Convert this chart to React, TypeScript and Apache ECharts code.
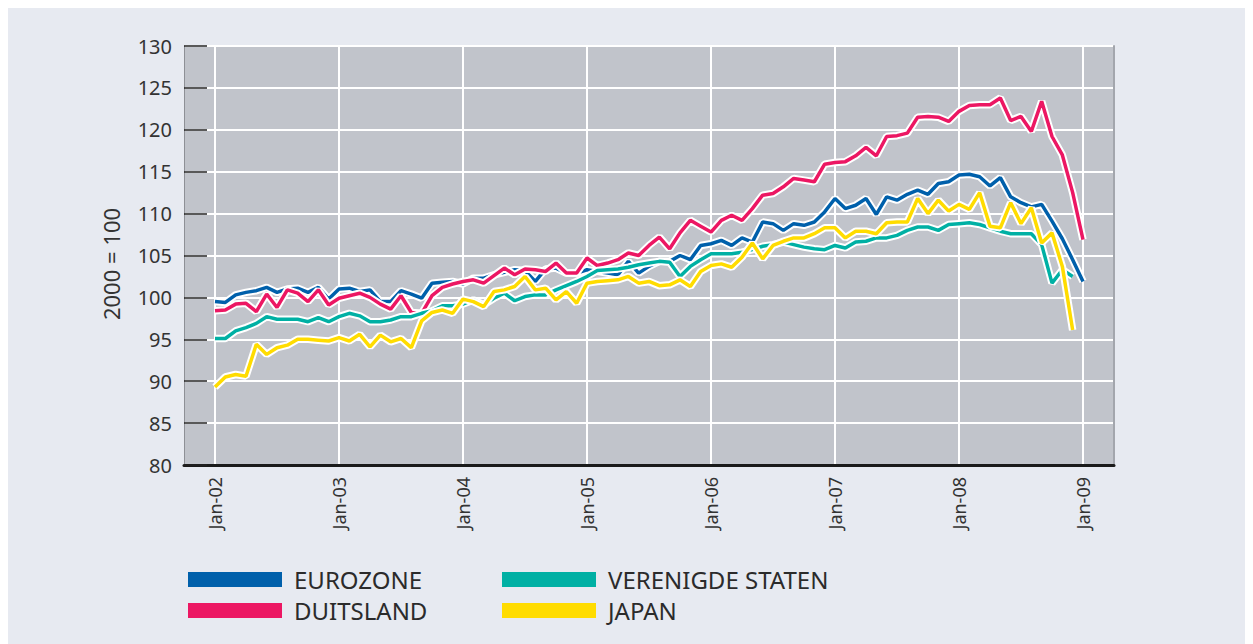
import React, { useEffect, useRef } from "react";
import * as echarts from "echarts";

// Month labels used to build the category axis (Oct-01 .. Apr-09)
const MONTH_NAMES = ["Jan", "Feb", "Mar", "Apr", "May", "Jun", "Jul", "Aug", "Sep", "Oct", "Nov", "Dec"];
const YEAR_TICKS = ["Jan-02", "Jan-03", "Jan-04", "Jan-05", "Jan-06", "Jan-07", "Jan-08", "Jan-09"];

// Monthly index values, Jan-02 .. Jan-09 (2000 = 100)
const eurozone = [
  99.5, 99.4, 100.3, 100.6, 100.8, 101.2, 100.6, 101.0, 101.1, 100.6, 101.2, 99.8,
  101.0, 101.1, 100.7, 100.9, 99.5, 99.5, 100.8, 100.4, 99.9, 101.7, 101.8, 101.9,
  101.6, 102.3, 102.3, 102.7, 103.0, 103.3, 103.2, 101.9, 103.4, 103.5, 102.9, 102.9,
  103.3, 103.1, 102.9, 102.7, 104.3, 102.9, 103.7, 104.3, 104.3, 105.0, 104.5, 106.2,
  106.4, 106.8, 106.2, 107.1, 106.6, 109.0, 108.8, 108.0, 108.8, 108.6, 109.0, 110.2,
  111.8, 110.6, 111.0, 111.8, 109.9, 112.0, 111.6, 112.3, 112.8, 112.3, 113.6, 113.8,
  114.6, 114.7, 114.4, 113.3, 114.3, 112.0, 111.3, 110.8, 111.1, 109.1, 107.0, 104.5,
  101.9,
];
const duitsland = [
  98.4, 98.5, 99.2, 99.3, 98.3, 100.4, 98.8, 100.9, 100.5, 99.5, 100.9, 99.1,
  99.9, 100.2, 100.5, 100.0, 99.2, 98.6, 100.2, 98.2, 98.1, 100.2, 101.2, 101.6,
  101.9, 102.1, 101.7, 102.6, 103.5, 102.7, 103.4, 103.3, 103.1, 104.1, 102.9, 102.9,
  104.7, 103.8, 104.1, 104.5, 105.3, 105.0, 106.2, 107.2, 105.8, 107.7, 109.2, 108.5,
  107.8, 109.2, 109.8, 109.2, 110.6, 112.2, 112.4, 113.2, 114.2, 114.0, 113.8, 115.9,
  116.1, 116.2, 116.9, 117.9, 116.9, 119.2, 119.3, 119.6, 121.5, 121.6, 121.5, 121.0,
  122.2, 122.9, 123.0, 123.0, 123.8, 121.1, 121.6, 119.8, 123.4, 119.2, 117.0, 112.5,
  106.9,
];
const verenigdeStaten = [
  95.1, 95.1, 96.0, 96.4, 96.9, 97.7, 97.4, 97.4, 97.4, 97.1, 97.6, 97.1,
  97.7, 98.1, 97.8, 97.1, 97.1, 97.3, 97.7, 97.7, 98.1, 98.4, 99.0, 99.0,
  99.2, 99.7, 99.1, 99.9, 100.5, 99.6, 100.1, 100.3, 100.3, 100.9, 101.4, 101.9,
  102.5, 103.2, 103.3, 103.4, 103.6, 103.9, 104.1, 104.3, 104.2, 102.5, 103.7, 104.5,
  105.2, 105.2, 105.2, 105.4, 105.7, 106.1, 106.3, 106.6, 106.3, 106.0, 105.8, 105.7,
  106.2, 105.9, 106.6, 106.7, 107.1, 107.1, 107.4, 108.0, 108.4, 108.4, 108.0, 108.7,
  108.8, 108.9, 108.7, 108.3, 107.9, 107.6, 107.6, 107.6, 106.3, 101.7, 103.3, 102.5,
];
const japan = [
  89.3, 90.5, 90.8, 90.6, 94.4, 93.2, 94.0, 94.3, 95.0, 95.0, 94.9, 94.8,
  95.2, 94.8, 95.6, 94.1, 95.5, 94.7, 95.1, 94.0, 97.2, 98.2, 98.5, 98.1,
  99.8, 99.5, 98.9, 100.7, 100.9, 101.3, 102.5, 100.9, 101.1, 99.7, 100.7, 99.3,
  101.7, 101.9, 102.0, 102.1, 102.5, 101.7, 101.9, 101.4, 101.5, 102.1, 101.3, 103.1,
  103.8, 104.0, 103.6, 104.8, 106.5, 104.6, 106.2, 106.7, 107.1, 107.1, 107.6, 108.3,
  108.3, 107.1, 107.9, 107.9, 107.6, 108.9, 109.0, 109.0, 111.8, 110.0, 111.6, 110.3,
  111.1, 110.5, 112.5, 108.5, 108.3, 111.3, 108.8, 110.7, 106.5, 107.7, 103.7, 96.1,
];

const SERIES_NAMES = ["EUROZONE", "DUITSLAND", "VERENIGDE STATEN", "JAPAN"];
const SERIES_COLORS = ["#0060ab", "#ec1763", "#00b0a4", "#ffdc00"];
const Y_TICKS_MIN = 80;
const Y_TICKS_MAX = 130;
const Y_TICKS_STEP = 5;
const Y_TITLE = "2000 = 100";

// categories: Oct-01 .. Apr-09 (3 empty months either side of the data)
const categories: string[] = [];
for (let i = 0; i < 91; i++) {
  const t = 2001 * 12 + 9 + i;
  const y = Math.floor(t / 12);
  const m = t % 12;
  categories.push(`${MONTH_NAMES[m]}-${String(y % 100).padStart(2, "0")}`);
}
const LEAD = 3;
const pad = (arr: number[]) => {
  const out: (number | null)[] = [];
  for (let i = 0; i < LEAD; i++) out.push(null);
  arr.forEach((v) => out.push(v));
  while (out.length < categories.length) out.push(null);
  return out;
};

const FONT = "'Noto Sans', 'DejaVu Sans', sans-serif";

export default function App() {
  const ref = useRef<HTMLDivElement>(null);
  useEffect(() => {
    document.documentElement.style.overflow = "hidden";
    if (!ref.current) return;
    const chart = echarts.init(ref.current, undefined, { renderer: "svg" });
    const isYearTick = (_i: number, v: string) => YEAR_TICKS.indexOf(v) >= 0;
    const datasets = [eurozone, duitsland, verenigdeStaten, japan];
    const series: any[] = [];
    datasets.forEach((d, i) => {
      series.push({
        name: SERIES_NAMES[i] + " halo",
        type: "line",
        data: pad(d),
        symbol: "none",
        silent: true,
        lineStyle: { color: "#ffffff", width: 7.5 },
        itemStyle: { color: "#ffffff" },
        z: 2,
      });
      series.push({
        name: SERIES_NAMES[i],
        type: "line",
        data: pad(d),
        symbol: "none",
        silent: true,
        color: SERIES_COLORS[i],
        lineStyle: { color: SERIES_COLORS[i], width: 3.5 },
        itemStyle: { color: SERIES_COLORS[i] },
        z: 2,
      });
    });
    const legendBase = {
      orient: "vertical",
      top: 556,
      itemWidth: 94,
      itemHeight: 15,
      itemGap: 0,
      icon: "rect",
      padding: 0,
      selectedMode: false,
      textStyle: {
        fontSize: 24,
        lineHeight: 31,
        color: "#2b2b2b",
        fontFamily: FONT,
        padding: [0, 0, 0, 7],
      },
    };
    chart.setOption({
      animation: false,
      backgroundColor: "#e7eaf1",
      grid: {
        left: 176,
        right: 131,
        top: 38,
        bottom: 179,
        show: true,
        backgroundColor: "#c1c4cb",
        borderWidth: 0,
      },
      legend: [
        { ...legendBase, left: 180, data: [SERIES_NAMES[0], SERIES_NAMES[1]] },
        { ...legendBase, left: 494, data: [SERIES_NAMES[2], SERIES_NAMES[3]] },
      ],
      graphic: [
        {
          type: "text",
          x: 103,
          y: 256,
          rotation: Math.PI / 2,
          style: {
            text: Y_TITLE,
            fontSize: 22,
            fontFamily: FONT,
            fill: "#333333",
            align: "center",
            verticalAlign: "middle",
          },
        },
      ],
      xAxis: {
        type: "category",
        data: categories,
        boundaryGap: false,
        axisLine: { show: true, lineStyle: { color: "#1a1a1a", width: 3 } },
        axisTick: { show: false },
        axisLabel: {
          interval: isYearTick,
          rotate: 90,
          margin: 12,
          fontSize: 18,
          fontFamily: FONT,
          color: "#333333",
        },
        splitLine: { show: true, interval: isYearTick, lineStyle: { color: "#ffffff", width: 2 } },
      },
      yAxis: [
        {
          type: "value",
          min: Y_TICKS_MIN,
          max: Y_TICKS_MAX,
          interval: Y_TICKS_STEP,
          axisLine: { show: true, lineStyle: { color: "#8e9096", width: 1 } },
          axisTick: { show: true, inside: true, length: 23, lineStyle: { color: "#222222", width: 1.5 } },
          axisLabel: { margin: 12, fontSize: 20, fontFamily: FONT, color: "#333333" },
          splitLine: { show: true, lineStyle: { color: "#ffffff", width: 2 } },
        },
        {
          type: "value",
          position: "right",
          min: Y_TICKS_MIN,
          max: Y_TICKS_MAX,
          interval: Y_TICKS_STEP,
          axisLine: { show: true, lineStyle: { color: "#a3a6ad", width: 2 } },
          axisTick: { show: false },
          axisLabel: { show: false },
          splitLine: { show: false },
        },
      ],
      series,
    });
    return () => chart.dispose();
  }, []);
  return <div ref={ref} style={{ width: 1237, height: 636 }} />;
}
